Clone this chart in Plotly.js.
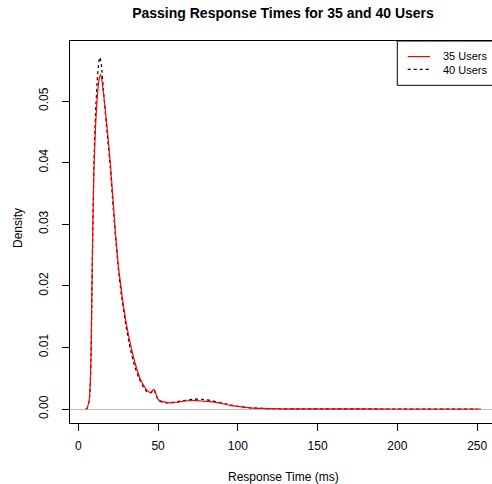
<!DOCTYPE html>
<html>
<head>
<meta charset="utf-8">
<script src="https://cdn.plot.ly/plotly-3.0.1.min.js"></script>
<style>html,body{margin:0;padding:0;background:#fff;}#chart{width:492px;height:484px;}</style>
</head>
<body>
<div id="chart"></div>
<script>
var chartTitle = "Passing Response Times for 35 and 40 Users";
var xLabel = "Response Time (ms)";
var yLabel = "Density";
var seriesNames = ["35 Users", "40 Users"];
var xTicks = [0, 50, 100, 150, 200, 250];
var yTicks = [0, 0.01, 0.02, 0.03, 0.04, 0.05];

var t35 = [4.5, 5.3, 6, 6.9, 7.5, 8, 8.4, 9, 9.8, 10.9, 12, 13, 14, 15, 16.7, 18.8, 20.3, 23, 25, 27.4, 30, 33.5, 36.2, 39, 41.8, 43.5, 45, 46.5, 47.5, 48.5, 50.2, 53, 57.5, 62, 67, 72, 77, 82.6, 88, 95, 101, 107.6, 115, 122, 135, 150, 200, 252.3];
var d35 = [0, 0.00002, 0.0005, 0.0015, 0.004, 0.009, 0.017, 0.028, 0.039, 0.0464, 0.051, 0.0535, 0.0543, 0.0530, 0.0491, 0.0437, 0.0392, 0.0296, 0.0235, 0.0185, 0.0140, 0.0096, 0.0069, 0.0048, 0.0035, 0.0029, 0.0027, 0.0030, 0.0032, 0.0026, 0.0015, 0.0012, 0.0010, 0.0011, 0.0013, 0.0014, 0.0013, 0.0012, 0.0010, 0.0006, 0.0004, 0.0002, 0.0001, 0.00005, 0.00002, 0.00001, 0.000005, 0];

var t40 = [4.8, 5.5, 6.2, 7, 7.6, 8.1, 8.5, 9.1, 9.8, 10.8, 11.8, 12.8, 13.6, 14.5, 16, 18, 20, 22.5, 25, 27, 30, 32, 35, 38, 41, 43, 45, 46.8, 47.5, 48.5, 50.2, 53, 57.5, 62, 67, 72, 77, 82.6, 88, 95, 101, 107.6, 115, 122, 140, 200, 250];
var d40 = [0, 0.0001, 0.0006, 0.0018, 0.0045, 0.0095, 0.018, 0.029, 0.040, 0.048, 0.053, 0.0563, 0.0571, 0.0558, 0.0510, 0.0450, 0.0393, 0.0305, 0.0230, 0.0185, 0.0133, 0.0105, 0.0072, 0.0050, 0.0035, 0.0028, 0.0026, 0.0029, 0.0031, 0.0024, 0.0014, 0.0011, 0.0010, 0.0012, 0.0014, 0.0016, 0.0016, 0.0014, 0.0011, 0.00068, 0.0004, 0.0002, 0.0001, 0.00005, 0.00002, 0.000005, 0];

var FONT = "Liberation Sans, Arial, Helvetica, sans-serif";

var traces = [
  {x: t40, y: d40, type: "scatter", mode: "lines", name: seriesNames[1],
   line: {color: "#000000", width: 1.2, dash: "3px,3px", shape: "spline", smoothing: 0.4}, showlegend: false},
  {x: t35, y: d35, type: "scatter", mode: "lines", name: seriesNames[0],
   line: {color: "#FF0000", width: 1.2, shape: "spline", smoothing: 0.4}, showlegend: false}
];

var L = 70, T = 41, B = 423, W = 492, H = 484;
var pw = W - L, ph = B - T;
function px(xp) { return (xp - L) / pw; }
function py(yp) { return (B - yp) / ph; }

var layout = {
  width: W, height: H,
  margin: {l: L, r: 0, t: T, b: H - B, pad: 0},
  paper_bgcolor: "#fff", plot_bgcolor: "#fff",
  font: {family: FONT, size: 12, color: "#000"},
  title: {text: "<b>" + chartTitle + "</b>", x: 283 / W, xref: "container", xanchor: "center",
          y: 1 - 13 / H, yref: "container", yanchor: "middle", font: {family: FONT, size: 14, color: "#000"}},
  xaxis: {range: [-5.2, 259.3], tickvals: xTicks, ticktext: xTicks.map(String), ticks: "outside", ticklen: 7,
          tickcolor: "#000", tickwidth: 1, showgrid: false, zeroline: false, showline: true, mirror: true,
          linecolor: "#000", linewidth: 1, tickfont: {size: 12, family: FONT}, ticklabelstandoff: 5},
  yaxis: {range: [-0.00227, 0.05974], tickvals: yTicks, ticktext: yTicks.map(function(v){return v.toFixed(2);}),
          ticks: "outside", ticklen: 7, tickcolor: "#000", tickwidth: 1, showgrid: false,
          zeroline: true, zerolinecolor: "#BEBEBE", zerolinewidth: 1, showline: true, mirror: false,
          linecolor: "#000", linewidth: 1, tickangle: -90, tickfont: {size: 12, family: FONT}, ticklabelstandoff: 9},
  shapes: [
    {type: "rect", xref: "paper", yref: "paper", x0: px(397.3), x1: 1.05, y0: py(85.3), y1: 1,
     line: {color: "#000", width: 1}, fillcolor: "rgba(0,0,0,0)"},
    {type: "line", xref: "paper", yref: "paper", x0: px(407.7), x1: px(430), y0: py(56.6), y1: py(56.6),
     line: {color: "#FF0000", width: 1.2}},
    {type: "line", xref: "paper", yref: "paper", x0: px(407.7), x1: px(430), y0: py(69.4), y1: py(69.4),
     line: {color: "#000", width: 1.2, dash: "3px,3px"}}
  ],
  annotations: [
    {text: seriesNames[0], xref: "paper", yref: "paper", x: px(441.7), y: py(56.4), xanchor: "left", yanchor: "middle",
     showarrow: false, borderpad: 0, font: {size: 11, family: FONT, color: "#000"}},
    {text: seriesNames[1], xref: "paper", yref: "paper", x: px(441.7), y: py(69.6), xanchor: "left", yanchor: "middle",
     showarrow: false, borderpad: 0, font: {size: 11, family: FONT, color: "#000"}},
    {text: xLabel, xref: "paper", yref: "paper", x: px(283), y: py(477), xanchor: "center", yanchor: "middle",
     showarrow: false, font: {size: 12, family: FONT, color: "#000"}},
    {text: yLabel, xref: "paper", yref: "paper", x: px(18), y: py(228), xanchor: "center", yanchor: "middle",
     textangle: -90, showarrow: false, font: {size: 12, family: FONT, color: "#000"}}
  ]
};

Plotly.newPlot("chart", traces, layout, {displayModeBar: false, staticPlot: true});
</script>
</body>
</html>
